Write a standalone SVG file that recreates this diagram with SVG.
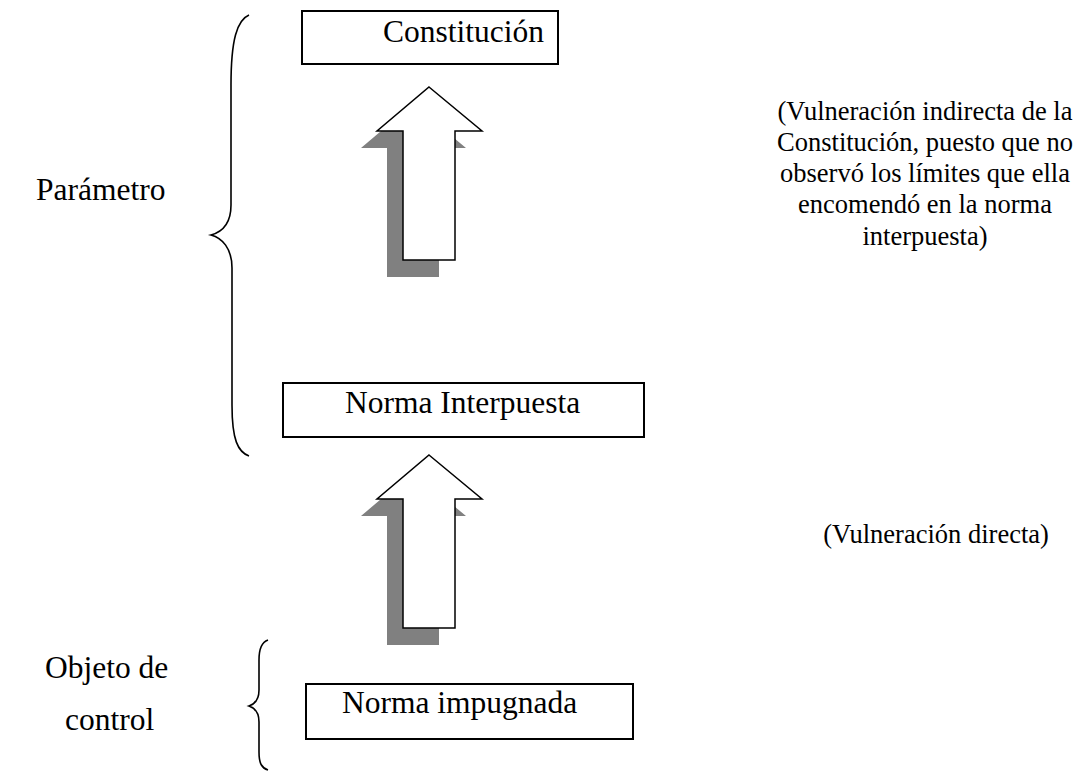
<svg xmlns="http://www.w3.org/2000/svg" width="1085" height="772" viewBox="0 0 1085 772">
<style>
.box{fill:#fff;stroke:#000;stroke-width:2}
.lbl{font-family:"Liberation Serif","Times New Roman",serif;font-size:31.5px;fill:#000}
.note{font-family:"Liberation Serif","Times New Roman",serif;font-size:26.5px;fill:#000;text-anchor:middle}
.brace{fill:none;stroke:#000;stroke-width:1.6}
.shadow{fill:#808080}
.arrow{fill:#fff;stroke:#000;stroke-width:1.5;stroke-linejoin:miter}
</style>
<defs>
<polygon id="arr" points="429,87 482,131 455,131 455,260 403,260 403,131 377,131"/>
</defs>
<rect width="1085" height="772" fill="#fff"/>
<g id="connectors">
<g id="arrow1">
<use href="#arr" class="shadow" transform="translate(-16,17)"/>
<use href="#arr" class="arrow"/>
</g>
<g id="arrow2">
<polygon class="shadow" points="413,472 466,516 439,516 439,645 387,645 387,516 361,516"/>
<polygon class="arrow" points="429,455 482,499 455,499 455,628 403,628 403,499 377,499"/>
</g>
</g>
<g id="constitucion">
<rect class="box" x="302" y="11" width="256" height="53"/>
<text class="lbl" x="383" y="42">Constitución</text>
</g>
<g id="norma-interpuesta">
<rect class="box" x="283" y="383" width="361" height="54"/>
<text class="lbl" x="345" y="413">Norma Interpuesta</text>
</g>
<g id="norma-impugnada">
<rect class="box" x="306" y="684" width="327" height="55"/>
<text class="lbl" x="342" y="713">Norma impugnada</text>
</g>
<g id="parametro">
<path class="brace" d="M249,15 C237,20 231,40 231,85 L231,205 C231,224 222,232 211,235 C222,238 232,248 232,268 L232,405 C232,440 238,452 249,456"/>
<text class="lbl" x="36" y="200">Parámetro</text>
</g>
<g id="objeto-de-control">
<path class="brace" d="M268,640 C262,642 259,648 259,660 L259,690 C259,700 255,704 249,706 C255,708 259,712 259,722 L259,752 C259,764 262,768 268,770"/>
<text class="lbl" x="45" y="678">Objeto de</text>
<text class="lbl" x="65" y="730">control</text>
</g>
<g id="nota-indirecta">
<text class="note" x="925" y="120">(Vulneración indirecta de la</text>
<text class="note" x="925" y="151">Constitución, puesto que no</text>
<text class="note" x="925" y="182">observó los límites que ella</text>
<text class="note" x="925" y="213">encomendó en la norma</text>
<text class="note" x="925" y="245">interpuesta)</text>
</g>
<g id="nota-directa">
<text class="note" x="936" y="543">(Vulneración directa)</text>
</g>
</svg>
